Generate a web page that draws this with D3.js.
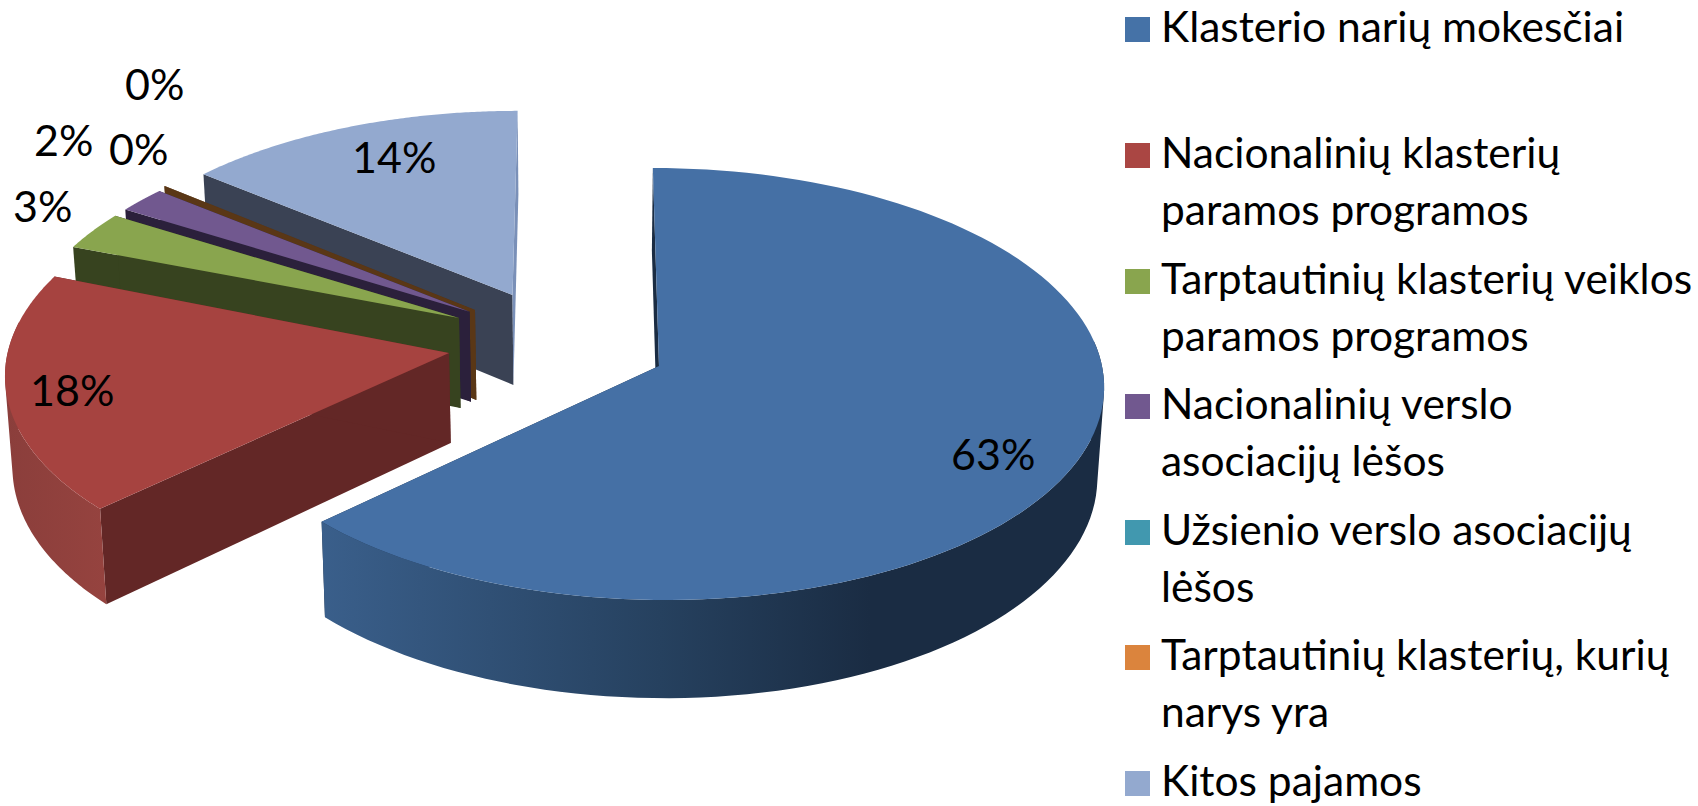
<!DOCTYPE html>
<html><head><meta charset="utf-8">
<script src="https://cdn.jsdelivr.net/npm/d3@7/dist/d3.min.js"></script>
<style>html,body{margin:0;padding:0;background:#fff;overflow:hidden}text{font-family:Lato,"Noto Sans",sans-serif;fill:#000}</style>
</head><body><svg id="c" width="1698" height="806"></svg>
<script>
const categories = ["Klasterio narių mokesčiai","Nacionalinių klasterių paramos programos","Tarptautinių klasterių veiklos paramos programos","Nacionalinių verslo asociacijų lėšos","Užsienio verslo asociacijų lėšos","Tarptautinių klasterių, kurių narys yra","Kitos pajamos"];
const values = [63, 18, 3, 2, 0, 0.02, 14];
const valueLabels = ["63%","18%","3%","2%","0%","0%","14%"];
const legendLines = [["Klasterio narių mokesčiai"],["Nacionalinių klasterių","paramos programos"],["Tarptautinių klasterių veiklos","paramos programos"],["Nacionalinių verslo","asociacijų lėšos"],["Užsienio verslo asociacijų","lėšos"],["Tarptautinių klasterių, kurių","narys yra"],["Kitos pajamos"]];

// styling and layout, kept apart from the data
const topColors  = ["#4570A5","#A64340","#89A54E","#71588F","#4198AF","#5A3716","#93A9CF"];
const startWall  = ["#1A2C43","#632726","#37431F","#2B203B","#214E5A","#5A3716","#3A4254"];
const endWall    = ["#1A2C43","#632726","#37431F","#2B203B","#214E5A","#5A3716","#7A90B8"];
const legendColors = ["#4572A7","#AA4643","#89A54E","#71588F","#4198AF","#DB843D","#93A9CF"];
const apexes = [[659,366],[449,353],[459,318],[469.6,311.7],[474,310.5],[475,310],[512.5,295]];
const scalesX = [1,.9965,.974,.974,.974,.974,.964];
const scalesY = [1,1,.93,.93,.93,.955,.93];
const labelPos = [[951,470],[30,406],[13,222],[34,156],[125,100],[109,165],[352,173]];
const legendTop = [17,143,269,394,520,645,771];
const LABEL_FONT = 43, LEGEND_FONT = 42.5, LINE = 56.5;
const VX = 579, A = 443, B = 214.5, Q = 12, DEPTH = 90, LOW = .987, FACING = -0.15;

const svg = d3.select("#c");
const defs = svg.append("defs");
function gradient(id, stops){
  const g = defs.append("linearGradient").attr("id",id).attr("gradientUnits","userSpaceOnUse")
    .attr("x1",0).attr("x2",1698).attr("y1",0).attr("y2",0);
  stops.forEach(s=>g.append("stop").attr("offset",s[0]/1698).attr("stop-color",s[1]));
}
gradient("sideBlue",[[320,"#3A5F8B"],[660,"#26415F"],[870,"#1A2C43"],[1110,"#1A2C43"]]);
gradient("sideRed",[[0,"#8A3E3B"],[110,"#96433F"]]);
const sideFill = ["url(#sideBlue)","url(#sideRed)","#37431F","#2B203B","#214E5A","#5A3716","#5F6F8C"];

const pie = d3.pie().sort(null).value(d=>d);
const arcs = pie(values);

function project(i, theta, r, low){
  const u = r*Math.sin(theta), v = -r*Math.cos(theta), f = Q/(Q-v);
  const [ax,ay] = apexes[i];
  let x = VX + (ax-VX + A*scalesX[i]*u)*f;
  let y = ay + B*scalesY[i]*v*f;
  if(low){ x = VX + (x-VX)*LOW; y += DEPTH*f; }
  return [x,y];
}
const line = d3.line();
const samples = (a,b,n)=>d3.range(0,n+1).map(k=>a+(b-a)*k/n);

// far slices first, near slices last
const order = [6,5,4,3,2,1,0];
const gPie = svg.append("g");
order.forEach(i=>{
  if(values[i]===0) return;
  const a = arcs[i], t = samples(a.startAngle,a.endAngle,120);
  const apex = (low)=>project(i,0,0,low);
  const g = gPie.append("g");
  [[a.startAngle,startWall[i]],[a.endAngle,endWall[i]]].forEach(([th,col])=>{
    g.append("path").attr("d",line([apex(false),project(i,th,1,false),project(i,th,1,true),apex(true)])+"Z")
      .attr("fill",col);
  });
  // outer rim: swept quads in one path, wound the same way so overlaps stay filled
  const front = t.filter(th=>-Math.cos(th)>=FACING);
  const rim = d3.pairs(front).map(([p,q])=>{
    const quad = [project(i,p,1,false),project(i,q,1,false),project(i,q,1,true),project(i,p,1,true)];
    return line(d3.polygonArea(quad)<0 ? quad.reverse() : quad)+"Z";
  }).join("");
  if(rim) g.append("path").attr("d",rim).attr("fill",sideFill[i]);
  g.append("path").attr("d",line([apex(false)].concat(t.map(th=>project(i,th,1,false))))+"Z").attr("fill",topColors[i]);
});

svg.append("g").selectAll("text").data(valueLabels).join("text")
  .attr("x",(d,i)=>labelPos[i][0]).attr("y",(d,i)=>labelPos[i][1])
  .attr("font-size",LABEL_FONT).text(d=>d);

const leg = svg.append("g").selectAll("g").data(categories).join("g");
leg.append("rect").attr("x",1125).attr("y",(d,i)=>legendTop[i]).attr("width",25).attr("height",25)
  .attr("fill",(d,i)=>legendColors[i]);
leg.each(function(d,i){
  d3.select(this).selectAll("text").data(legendLines[i]).join("text")
    .attr("x",1161).attr("y",(s,k)=>legendTop[i]+25+k*LINE).attr("font-size",LEGEND_FONT).text(s=>s);
});
</script></body></html>
